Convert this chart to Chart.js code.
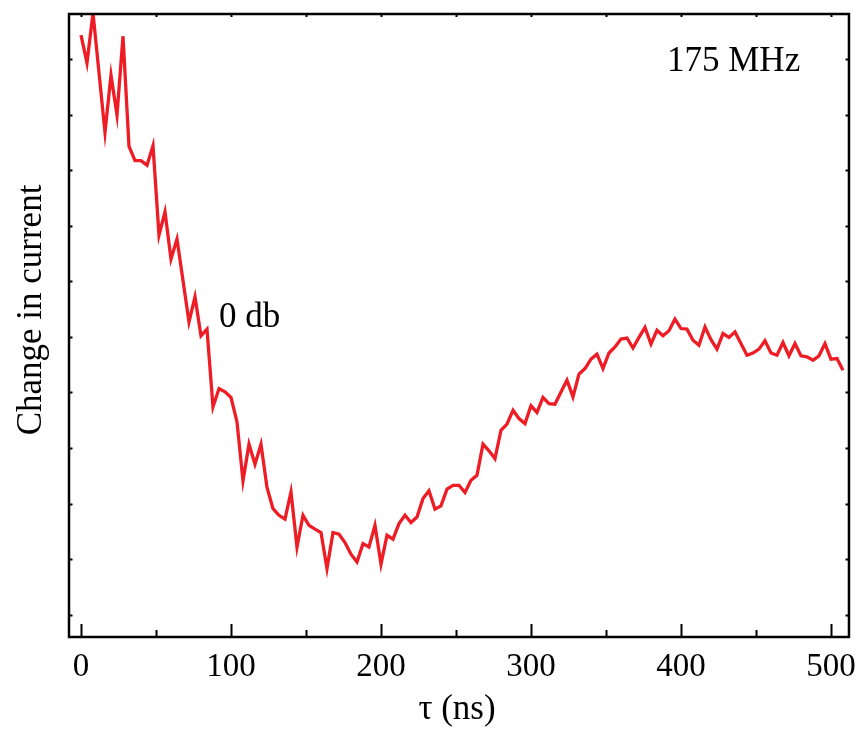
<!DOCTYPE html>
<html>
<head>
<meta charset="utf-8">
<title>Change in current vs delay</title>
<script src="https://cdn.jsdelivr.net/npm/chart.js@4.4.1/dist/chart.umd.min.js"></script>
<style>
  html, body { margin: 0; padding: 0; background: #ffffff; }
  #wrap { width: 867px; height: 748px; position: relative; }
</style>
</head>
<body>
<div id="wrap"><canvas id="chart" width="867" height="748"></canvas></div>
<script>
// Delay times (ns) of the measured points
const times = [
  0, 4, 8, 16, 20, 24, 28, 32, 36, 40, 44, 48, 52, 56, 60, 64,
  72, 76, 80, 84, 88, 92, 96, 100, 104, 108, 112, 116, 120, 124, 128, 132,
  136, 140, 144, 148, 152, 156, 160, 164, 168, 172, 176, 180, 184, 188, 192, 196,
  200, 204, 208, 212, 216, 220, 224, 228, 232, 236, 240, 244, 248, 252, 256, 260,
  264, 268, 272, 276, 280, 284, 288, 292, 296, 300, 304, 308, 312, 316, 320, 324,
  328, 332, 336, 340, 344, 348, 352, 356, 360, 364, 368, 372, 376, 380, 384, 388,
  392, 396, 400, 404, 408, 412, 416, 420, 424, 428, 432, 436,
  444, 448, 452, 456, 460, 464, 468, 472, 476, 480, 484, 488, 492, 496, 500, 504, 508
];

// Change in current (arbitrary units), 0 dB drive at 175 MHz
const current = [
  10.43, 9.93, 10.83, 8.68, 9.71, 8.99, 10.41, 8.43, 8.17, 8.17, 8.09, 8.44, 6.83, 7.25, 6.40, 6.76,
  5.27, 5.72, 5.02, 5.14, 3.74, 4.07, 4.01, 3.91, 3.47, 2.41, 3.07, 2.71, 3.07, 2.29, 1.91, 1.79,
  1.72, 2.21, 1.22, 1.79, 1.61, 1.54, 1.48, 0.83, 1.48, 1.45, 1.30, 1.09, 0.95, 1.28, 1.22, 1.61,
  0.91, 1.43, 1.36, 1.64, 1.79, 1.66, 1.76, 2.09, 2.23, 1.90, 1.96, 2.26, 2.33, 2.33, 2.20, 2.42,
  2.51, 3.07, 2.95, 2.81, 3.32, 3.43, 3.68, 3.53, 3.44, 3.76, 3.64, 3.91, 3.80, 3.79, 4.01, 4.22,
  3.92, 4.33, 4.43, 4.60, 4.69, 4.43, 4.71, 4.82, 4.96, 4.98, 4.80, 4.99, 5.17, 4.87, 5.12, 5.02,
  5.11, 5.32, 5.15, 5.14, 4.94, 4.85, 5.18, 4.95, 4.78, 5.06, 4.99, 5.09,
  4.67, 4.71, 4.78, 4.93, 4.71, 4.67, 4.90, 4.66, 4.88, 4.66, 4.64, 4.58, 4.66, 4.88, 4.60, 4.61, 4.40
];

// Axis ticks
const xMajorTicks = [0, 100, 200, 300, 400, 500];
const xMinorTicks = [50, 150, 250, 350, 450];
const xTopTicks = [0, 50, 100, 150, 200, 250, 300, 350, 400, 450, 500];
const yTicks = [0, 1, 2, 3, 4, 5, 6, 7, 8, 9, 10];

// Text
const xTitle = 'τ (ns)';
const yTitle = 'Change in current';
const freqLabel = '175 MHz';
const powerLabel = '0 db';

const SERIF = '"Liberation Serif", "Times New Roman", serif';

// Frame, inward tick marks and the text annotations
const framePlugin = {
  id: 'frame',
  afterDatasetsDraw(chart) {
    const { ctx, chartArea: a, scales } = chart;
    const xs = scales.x, ys = scales.y;
    ctx.save();
    ctx.strokeStyle = '#000';
    ctx.lineCap = 'butt';

    // tick marks
    ctx.lineWidth = 2;
    ctx.beginPath();
    xMajorTicks.forEach(v => {
      const p = Math.round(xs.getPixelForValue(v)) + 0.5;
      ctx.moveTo(p, a.bottom); ctx.lineTo(p, a.bottom - 13);
    });
    xMinorTicks.forEach(v => {
      const p = Math.round(xs.getPixelForValue(v)) + 0.5;
      ctx.moveTo(p, a.bottom); ctx.lineTo(p, a.bottom - 7);
    });
    xTopTicks.forEach(v => {
      const p = Math.round(xs.getPixelForValue(v)) + 0.5;
      ctx.moveTo(p, a.top); ctx.lineTo(p, a.top + 3);
    });
    yTicks.forEach(v => {
      const p = Math.round(ys.getPixelForValue(v)) + 0.5;
      ctx.moveTo(a.left, p); ctx.lineTo(a.left + 3.5, p);
      ctx.moveTo(a.right, p); ctx.lineTo(a.right - 3.5, p);
    });
    ctx.stroke();

    // axis frame
    ctx.lineWidth = 2.5;
    ctx.strokeRect(a.left, a.top, a.right - a.left, a.bottom - a.top);

    // text
    ctx.fillStyle = '#000';
    ctx.textBaseline = 'alphabetic';
    ctx.font = '35px ' + SERIF;
    ctx.textAlign = 'left';
    ctx.fillText(freqLabel, 667, 71);
    ctx.fillText(powerLabel, 219, 327);

    ctx.textAlign = 'center';
    ctx.fillText(xTitle, 457, 719);

    ctx.save();
    ctx.translate(41, 310);
    ctx.rotate(-Math.PI / 2);
    ctx.fillText(yTitle, 0, 0);
    ctx.restore();

    ctx.restore();
  }
};

new Chart(document.getElementById('chart'), {
  type: 'line',
  data: {
    datasets: [{
      label: powerLabel,
      data: times.map((t, i) => ({ x: t, y: current[i] })),
      borderColor: '#ee1d25',
      borderWidth: 3.3,
      pointRadius: 0,
      tension: 0,
      fill: false
    }]
  },
  options: {
    responsive: false,
    animation: false,
    events: [],
    layout: { padding: { top: 14, right: 12, left: 0, bottom: 0 } },
    plugins: { legend: { display: false }, tooltip: { enabled: false }, title: { display: false } },
    scales: {
      x: {
        type: 'linear',
        min: -8,
        max: 512,
        afterBuildTicks(scale) { scale.ticks = xMajorTicks.map(v => ({ value: v })); },
        afterFit(scale) { scale.height = 111; },
        grid: { display: false, drawTicks: false },
        border: { display: false },
        ticks: {
          color: '#000',
          padding: 11,
          maxRotation: 0,
          autoSkip: false,
          font: { family: SERIF, size: 33 }
        }
      },
      y: {
        type: 'linear',
        min: -0.4,
        max: 10.81,
        afterBuildTicks(scale) { scale.ticks = yTicks.map(v => ({ value: v })); },
        afterFit(scale) { scale.width = 69; },
        grid: { display: false, drawTicks: false },
        border: { display: false },
        ticks: { display: false }
      }
    }
  },
  plugins: [framePlugin]
});
</script>
</body>
</html>
